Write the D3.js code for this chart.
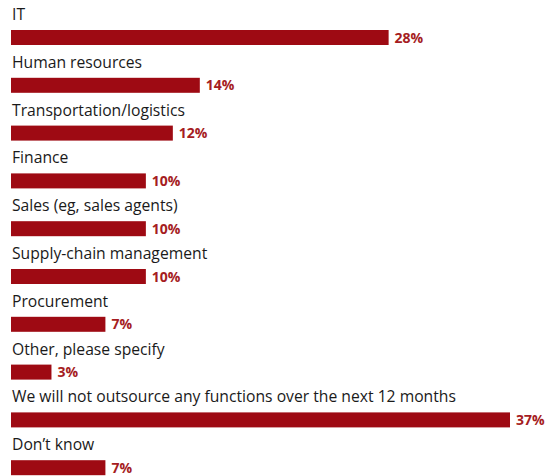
<!DOCTYPE html>
<html>
<head>
<meta charset="utf-8">
<script src="https://cdn.jsdelivr.net/npm/d3@7"></script>
<style>
  html, body { margin: 0; padding: 0; background: #fff; }
  svg { display: block; }
</style>
</head>
<body>
<svg id="chart" width="547" height="476"></svg>
<script>
// Functions expected to be outsourced over the next 12 months (% of respondents)
const categories = [
  "IT",
  "Human resources",
  "Transportation/logistics",
  "Finance",
  "Sales (eg, sales agents)",
  "Supply-chain management",
  "Procurement",
  "Other, please specify",
  "We will not outsource any functions over the next 12 months",
  "Don\u2019t know"
];
const values = [28, 14, 12, 10, 10, 10, 7, 3, 37, 7];

const left = 11;
const barColor = "#9e0a13";
const labelColor = "#a51c22";

const svg = d3.select("#chart");

const x = d3.scaleLinear().domain([0, 37]).range([left, 510]);
const y = d3.scaleBand().domain(categories).range([0, 478]).paddingInner(0).paddingOuter(0);

const barH = 15;
const barOffset = 30; // bar top within each band

const rows = svg.selectAll("g.row")
  .data(categories.map((c, i) => ({ c, v: values[i] })))
  .join("g")
  .attr("class", "row")
  .attr("transform", d => `translate(0,${y(d.c)})`);

rows.append("text")
  .attr("x", 12)
  .attr("y", 20)
  .attr("font-family", "'Open Sans', sans-serif")
  .attr("font-size", 15.7)
  .attr("fill", "#1a1a1a")
  .text(d => d.c);

rows.append("rect")
  .attr("x", x(0))
  .attr("y", barOffset)
  .attr("width", d => x(d.v) - x(0))
  .attr("height", barH)
  .attr("fill", barColor);

rows.append("text")
  .attr("x", d => x(d.v) + 6)
  .attr("y", barOffset + 12.5)
  .attr("font-family", "'Open Sans', sans-serif")
  .attr("font-weight", "bold")
  .attr("font-size", 14)
  .attr("fill", labelColor)
  .text(d => d.v + "%");
</script>
</body>
</html>
